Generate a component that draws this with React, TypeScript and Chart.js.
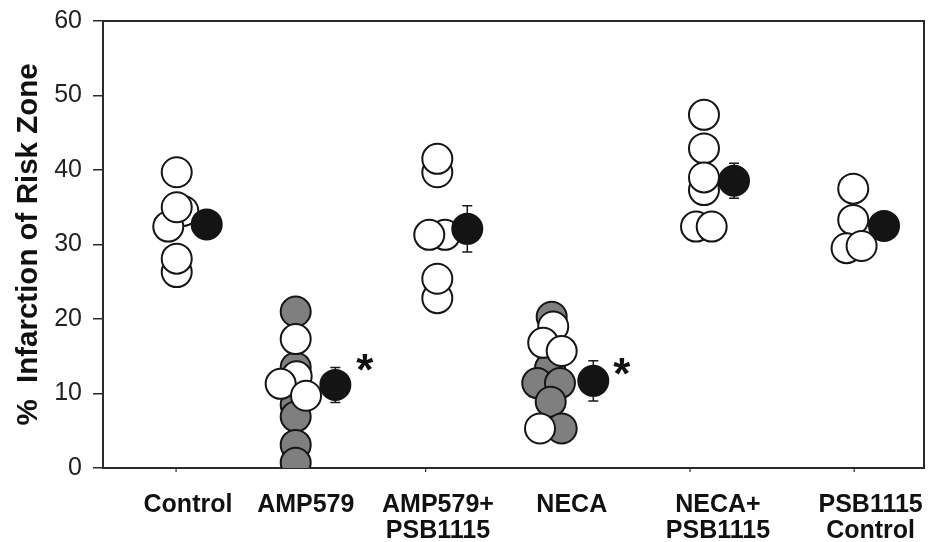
import { useEffect, useRef } from "react";
import { Chart, registerables } from "chart.js";

Chart.register(...registerables);

// Category labels and their positions on the x scale (0-100)
const categories: string[][] = [
  ["Control"],
  ["AMP579"],
  ["AMP579+", "PSB1115"],
  ["NECA"],
  ["NECA+", "PSB1115"],
  ["PSB1115", "Control"],
];
const categoryX = [10.35, 24.7, 40.8, 57.1, 74.9, 93.5];
const xTickMarks = [8.9, 39.3, 71.5, 91.5];
const yTicks = [0, 10, 20, 30, 40, 50, 60];

// Individual values (open circles)
const controlOpen = [
  { x: 9.78, y: 34.5 }, { x: 7.95, y: 32.4 }, { x: 8.98, y: 35.0 },
  { x: 8.98, y: 39.7 }, { x: 8.98, y: 26.3 }, { x: 8.98, y: 28.1 },
];
const amp579Open = [
  { x: 23.47, y: 17.3 }, { x: 23.59, y: 12.3 }, { x: 21.64, y: 11.3 }, { x: 24.73, y: 9.7 },
];
const amp579Gray = [
  { x: 23.47, y: 21.0 }, { x: 23.47, y: 13.5 }, { x: 23.47, y: 8.5 },
  { x: 23.47, y: 6.9 }, { x: 23.47, y: 3.1 }, { x: 23.47, y: 0.7 },
];
const ampPsbOpen = [
  { x: 40.72, y: 39.7 }, { x: 40.72, y: 41.5 }, { x: 41.66, y: 31.3 },
  { x: 39.74, y: 31.3 }, { x: 40.72, y: 22.8 }, { x: 40.72, y: 25.4 },
];
const necaGray = [
  { x: 54.65, y: 20.3 }, { x: 54.45, y: 13.4 }, { x: 52.89, y: 11.4 },
  { x: 55.66, y: 11.4 }, { x: 54.53, y: 8.9 }, { x: 55.87, y: 5.3 },
];
const necaOpen = [
  { x: 54.84, y: 19.0 }, { x: 53.62, y: 16.8 }, { x: 55.87, y: 15.7 }, { x: 53.23, y: 5.3 },
];
const necaPsbOpen = [
  { x: 73.2, y: 47.4 }, { x: 73.2, y: 42.9 }, { x: 73.2, y: 37.3 },
  { x: 73.2, y: 39.0 }, { x: 72.23, y: 32.4 }, { x: 74.14, y: 32.4 },
];
const psbControlOpen = [
  { x: 91.38, y: 37.5 }, { x: 91.38, y: 33.3 }, { x: 90.57, y: 29.5 }, { x: 92.4, y: 29.8 },
];

// Group means with SEM
const meanX = [12.63, 28.3, 44.37, 59.72, 76.86, 95.13];
const meanY = [32.7, 11.15, 32.1, 11.7, 38.55, 32.5];
const meanErr = [1.8, 2.35, 3.1, 2.7, 2.35, 0.9];

// Significance markers
const starX = [31.9, 63.18];
const starY = [14.5, 14.0];

const FONT = "'Liberation Sans', Arial, Helvetica, sans-serif";
const INK = "#1a1a1a";
const STAR_SIZE = 44;

const decorPlugin = {
  id: "decor",
  beforeDatasetsDraw(chart: any) {
    const { ctx, scales } = chart;
    const xs = scales.x;
    const ys = scales.y;
    ctx.save();
    ctx.strokeStyle = INK;
    ctx.lineWidth = 1.5;
    for (let i = 0; i < meanX.length; i++) {
      const px = xs.getPixelForValue(meanX[i]);
      const top = ys.getPixelForValue(meanY[i] + meanErr[i]);
      const bot = ys.getPixelForValue(meanY[i] - meanErr[i]);
      ctx.beginPath();
      ctx.moveTo(px, top);
      ctx.lineTo(px, bot);
      ctx.moveTo(px - 5, top);
      ctx.lineTo(px + 5, top);
      ctx.moveTo(px - 5, bot);
      ctx.lineTo(px + 5, bot);
      ctx.stroke();
    }
    ctx.restore();
  },
  afterDraw(chart: any) {
    const { ctx, chartArea, scales } = chart;
    const xs = scales.x;
    const ys = scales.y;
    ctx.save();
    ctx.strokeStyle = "#2a2a2a";
    ctx.lineWidth = 2;
    ctx.beginPath();
    ctx.moveTo(chartArea.left, chartArea.top);
    ctx.lineTo(chartArea.right, chartArea.top);
    ctx.lineTo(chartArea.right, chartArea.bottom);
    ctx.stroke();
    ctx.lineWidth = 1.2;
    ctx.beginPath();
    for (const v of xTickMarks) {
      const px = xs.getPixelForValue(v);
      ctx.moveTo(px, chartArea.bottom);
      ctx.lineTo(px, chartArea.bottom + 4);
    }
    ctx.stroke();
    ctx.fillStyle = "#111";
    ctx.font = `bold ${STAR_SIZE}px ${FONT}`;
    ctx.textAlign = "center";
    ctx.textBaseline = "alphabetic";
    for (let i = 0; i < starX.length; i++) {
      const px = xs.getPixelForValue(starX[i]);
      const py = ys.getPixelForValue(starY[i]);
      ctx.fillText("*", px, py + 0.57 * STAR_SIZE);
    }
    ctx.restore();
  },
};

const openStyle = {
  backgroundColor: "#ffffff",
  borderColor: "#151515",
  borderWidth: 2,
  pointRadius: 15,
  pointHoverRadius: 15,
};
const grayStyle = {
  backgroundColor: "#7f7f7f",
  borderColor: "#151515",
  borderWidth: 2,
  pointRadius: 15,
  pointHoverRadius: 15,
};

export default function App() {
  const canvasRef = useRef<HTMLCanvasElement | null>(null);

  useEffect(() => {
    if (!canvasRef.current) return;
    // Chart.js draws the first dataset on top, so the means come first and the gray points last.
    const chart = new Chart(canvasRef.current, {
      type: "scatter",
      data: {
        datasets: [
          {
            label: "Mean",
            data: meanX.map((x, i) => ({ x, y: meanY[i] })),
            backgroundColor: "#141414",
            borderColor: "#141414",
            borderWidth: 2,
            pointRadius: 15,
            pointHoverRadius: 15,
          },
          { label: "Control", data: controlOpen, ...openStyle },
          { label: "AMP579", data: amp579Open, ...openStyle },
          { label: "AMP579+PSB1115", data: ampPsbOpen, ...openStyle },
          { label: "NECA", data: necaOpen, ...openStyle },
          { label: "NECA+PSB1115", data: necaPsbOpen, ...openStyle },
          { label: "PSB1115 Control", data: psbControlOpen, ...openStyle },
          { label: "AMP579 gray", data: amp579Gray, ...grayStyle },
          { label: "NECA gray", data: necaGray, ...grayStyle },
        ],
      },
      options: {
        animation: false,
        responsive: true,
        maintainAspectRatio: false,
        devicePixelRatio: 1,
        layout: { autoPadding: false, padding: { top: 21, right: 9, left: 0, bottom: 0 } },
        plugins: {
          legend: { display: false },
          tooltip: { enabled: false },
        },
        scales: {
          x: {
            type: "linear",
            min: 0,
            max: 100,
            position: "bottom",
            grid: { display: false },
            border: { display: true, color: "#2a2a2a", width: 2 },
            afterBuildTicks: (scale: any) => {
              scale.ticks = categoryX.map((v) => ({ value: v }));
            },
            afterFit: (scale: any) => {
              scale.height = 74;
              scale.paddingLeft = 0;
              scale.paddingRight = 0;
              scale.paddingTop = 0;
              scale.paddingBottom = 0;
            },
            ticks: {
              autoSkip: false,
              maxRotation: 0,
              minRotation: 0,
              padding: 16,
              color: "#111",
              font: { family: FONT, size: 25, weight: "bold", lineHeight: 1.04 },
              callback: (_v: any, i: number) => categories[i],
            },
          },
          y: {
            type: "linear",
            min: 0,
            max: 60,
            afterBuildTicks: (scale: any) => {
              scale.ticks = yTicks.map((v) => ({ value: v }));
            },
            afterFit: (scale: any) => {
              scale.width = 103;
              scale.paddingLeft = 0;
              scale.paddingRight = 0;
              scale.paddingTop = 0;
              scale.paddingBottom = 0;
            },
            grid: {
              drawOnChartArea: false,
              drawTicks: true,
              tickLength: 10,
              color: "#2a2a2a",
              lineWidth: 1.5,
            },
            border: { display: true, color: "#2a2a2a", width: 2 },
            ticks: {
              padding: 11,
              color: "#222",
              font: { family: FONT, size: 25 },
            },
            title: {
              display: true,
              text: "%  Infarction of Risk Zone",
              color: "#111",
              padding: { top: 11, bottom: 0 },
              font: { family: FONT, size: 29.5, weight: "bold", lineHeight: 1.2 },
            },
          },
        },
      },
      plugins: [decorPlugin],
    });
    return () => chart.destroy();
  }, []);

  return (
    <div style={{ position: "fixed", left: 0, top: 0, width: 933, height: 542, background: "#fff" }}>
      <canvas ref={canvasRef} />
    </div>
  );
}
